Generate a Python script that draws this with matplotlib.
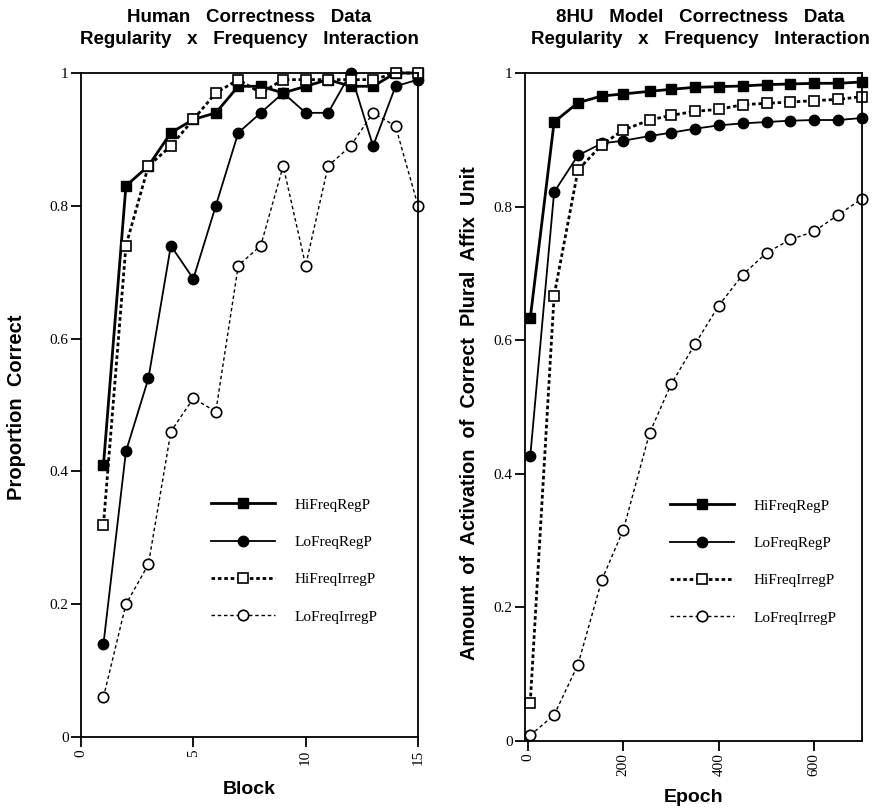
import matplotlib
matplotlib.use("Agg")
import matplotlib.pyplot as plt
from matplotlib.ticker import FuncFormatter

# ---------------- data ----------------
blocks = [1, 2, 3, 4, 5, 6, 7, 8, 9, 10, 11, 12, 13, 14, 15]
human_hi_reg = [0.41, 0.83, 0.86, 0.91, 0.93, 0.94, 0.98, 0.98, 0.97, 0.98, 0.99, 0.98, 0.98, 1.00, 1.00]
human_lo_reg = [0.14, 0.43, 0.54, 0.74, 0.69, 0.80, 0.91, 0.94, 0.97, 0.94, 0.94, 1.00, 0.89, 0.98, 0.99]
human_hi_irr = [0.32, 0.74, 0.86, 0.89, 0.93, 0.97, 0.99, 0.97, 0.99, 0.99, 0.99, 0.99, 0.99, 1.00, 1.00]
human_lo_irr = [0.06, 0.20, 0.26, 0.46, 0.51, 0.49, 0.71, 0.74, 0.86, 0.71, 0.86, 0.89, 0.94, 0.92, 0.80]

epochs = [5, 55, 105, 155, 200, 255, 300, 350, 400, 450, 500, 550, 600, 650, 700]
model_hi_reg = [0.633, 0.927, 0.956, 0.966, 0.969, 0.973, 0.976, 0.979, 0.980, 0.981, 0.983, 0.984, 0.985, 0.985, 0.987]
model_lo_reg = [0.426, 0.822, 0.877, 0.895, 0.899, 0.906, 0.911, 0.917, 0.922, 0.925, 0.927, 0.929, 0.930, 0.930, 0.933]
model_hi_irr = [0.057, 0.667, 0.855, 0.893, 0.915, 0.930, 0.937, 0.943, 0.946, 0.953, 0.955, 0.957, 0.959, 0.961, 0.965]
model_lo_irr = [0.008, 0.0385, 0.114, 0.241, 0.316, 0.461, 0.534, 0.594, 0.652, 0.698, 0.731, 0.751, 0.763, 0.788, 0.812]

series_names = ["HiFreqRegP", "LoFreqRegP", "HiFreqIrregP", "LoFreqIrregP"]

left_title = "Human   Correctness   Data\nRegularity   x   Frequency   Interaction"
right_title = "8HU   Model   Correctness   Data\nRegularity   x   Frequency   Interaction"
left_ylabel = "Proportion  Correct"
right_ylabel = "Amount  of  Activation  of  Correct  Plural  Affix  Unit"
left_xlabel = "Block"
right_xlabel = "Epoch"
yticks = [0, 0.2, 0.4, 0.6, 0.8, 1.0]
left_xticks = [0, 5, 10, 15]
right_xticks = [0, 200, 400, 600]

# ---------------- styles ----------------
SERIF = "Liberation Serif"
SANS = "Liberation Sans"
styles = [
    dict(color="black", lw=2.0, ls="-", marker="s", ms=7.5, mfc="black", mec="black", mew=1.0),
    dict(color="black", lw=1.3, ls="-", marker="o", ms=7.5, mfc="black", mec="black", mew=1.0),
    dict(color="black", lw=2.0, ls=(0, (1.3, 1.0)), marker="s", ms=7.5, mfc="white", mec="black", mew=1.2),
    dict(color="black", lw=1.0, ls=(0, (2.5, 2.0)), marker="o", ms=7.5, mfc="white", mec="black", mew=1.2),
]

fig = plt.figure(figsize=(8.76, 8.08), dpi=100)
axL = fig.add_axes([81 / 876, 1 - 737 / 808, 337 / 876, 664 / 808])
axR = fig.add_axes([525 / 876, 1 - 740.7 / 808, 337 / 876, 667.4 / 808])

fmt = FuncFormatter(lambda v, p: "%g" % v)


def style_axes(ax, xticks, xlim, title, xlabel, ylabel, title_x, ylsize, ylcoords, xlpad):
    ax.set_xlim(*xlim)
    ax.set_ylim(0, 1)
    ax.set_yticks(yticks)
    ax.set_xticks(xticks)
    ax.yaxis.set_major_formatter(fmt)
    ax.xaxis.set_major_formatter(fmt)
    for sp in ax.spines.values():
        sp.set_linewidth(1.3)
    ax.tick_params(axis="both", direction="out", length=7, width=1.3, pad=2,
                   labelsize=11)
    for lab in ax.get_xticklabels():
        lab.set_rotation(90)
        lab.set_fontfamily(SERIF)
    for lab in ax.get_yticklabels():
        lab.set_fontfamily(SERIF)
    ax.set_title(title, fontsize=13.5, fontweight="bold", family=SANS, pad=21,
                 linespacing=1.38, x=title_x)
    ax.set_xlabel(xlabel, fontsize=14, fontweight="bold", family=SANS, labelpad=xlpad)
    ax.set_ylabel(ylabel, fontsize=ylsize, fontweight="bold", family=SANS)
    ax.yaxis.set_label_coords(*ylcoords)


# left panel
for y, st, name in zip([human_hi_reg, human_lo_reg, human_hi_irr, human_lo_irr], styles, series_names):
    axL.plot(blocks, y, label=name, clip_on=False, **st)
style_axes(axL, left_xticks, (0, 15), left_title, left_xlabel, left_ylabel, 0.5,
           14.5, ((26 - 81) / 337, (737 - 407.5) / 664), 12)

# right panel
for y, st, name in zip([model_hi_reg, model_lo_reg, model_hi_irr, model_lo_irr], styles, series_names):
    axR.plot(epochs, y, label=name, clip_on=False, **st)
style_axes(axR, right_xticks, (-6, 700), right_title, right_xlabel, right_ylabel, 0.52,
           14.3, ((479 - 525) / 337, (740.7 - 413.5) / 667.4), 9)

legend_kw = dict(frameon=False, loc="upper left", handlelength=4.2, handletextpad=1.3,
                 labelspacing=1.55, borderpad=0, borderaxespad=0,
                 prop={"family": SERIF, "size": 11})
axL.legend(bbox_to_anchor=((211 - 81) / 337, (737 - 498) / 664), **legend_kw)
axR.legend(bbox_to_anchor=((670 - 525) / 337, (740.7 - 499) / 667.4), **legend_kw)

fig.savefig("out.png", dpi=100)
